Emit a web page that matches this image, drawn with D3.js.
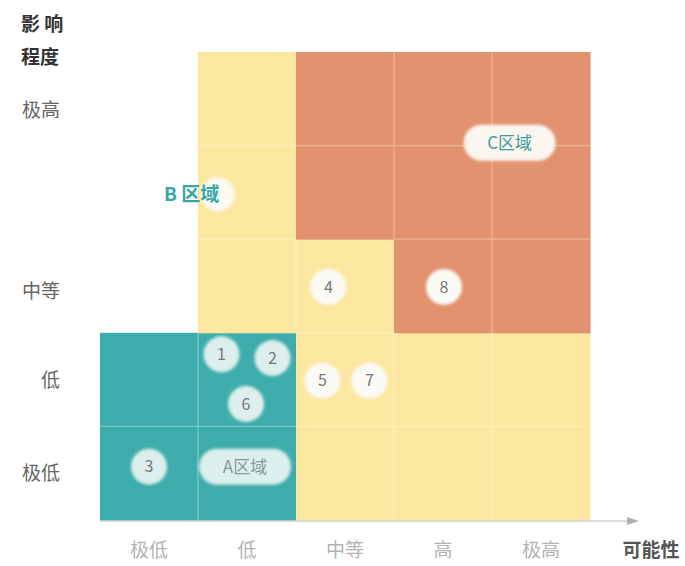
<!DOCTYPE html>
<html>
<head>
<meta charset="utf-8">
<script src="https://cdn.jsdelivr.net/npm/d3@7"></script>
<style>
  body { margin: 0; background: #fff; }
  text { font-family: "Noto Sans CJK SC", "Noto Sans", sans-serif; }
</style>
</head>
<body>
<div id="chart"></div>
<script>
// categories
const likelihood = ["极低", "低", "中等", "高", "极高"];
const impactLabels = ["极低", "低", "中等", "极高"];
const impactLabelPos = [0.5, 1.5, 2.45, 4.38];

// zone of each cell, row 0 = 极低 impact, col 0 = 极低 likelihood
const zoneRows = [
  ["A", "A", "B", "B", "B"],
  ["A", "A", "B", "B", "B"],
  [null, "B", "B", "C", "C"],
  [null, "B", "C", "C", "C"],
  [null, "B", "C", "C", "C"]
];

// risks: likelihood / impact positions (0..5)
const riskIds = ["1", "2", "6", "3", "5", "7", "4", "8"];
const riskX = [1.24, 1.76, 1.49, 0.5, 2.27, 2.75, 2.33, 3.51];
const riskY = [1.77, 1.73, 1.24, 0.57, 1.49, 1.49, 2.49, 2.49];

// zone tags
const zoneNames = ["A区域", "C区域"];
const zoneX = [1.48, 4.18];
const zoneY = [0.57, 4.03];

const width = 685, height = 566;
const colors = { A: "#3eacac", B: "#fce7a1", C: "#e3926f" };
const gridColors = { A: "#7cc9c6", B: "#fdedb8", C: "#f0b397" };

const svg = d3.select("#chart").append("svg")
  .attr("width", width)
  .attr("height", height);

const x = d3.scaleLinear().domain([0, 5]).range([100, 590]);
const y = d3.scaleLinear().domain([0, 5]).range([520, 52]);

// cells
const cells = [];
zoneRows.forEach((row, r) => row.forEach((z, c) => { if (z) cells.push({ r, c, z }); }));

svg.append("g").selectAll("rect")
  .data(cells)
  .join("rect")
  .attr("x", d => x(d.c))
  .attr("y", d => y(d.r + 1))
  .attr("width", x(1) - x(0) + 0.5)
  .attr("height", y(0) - y(1) + 0.5)
  .attr("fill", d => colors[d.z]);

// thin inner grid lines between cells of the same zone
const gridG = svg.append("g");
cells.forEach(d => {
  if (d.c < 4 && zoneRows[d.r][d.c + 1] === d.z) {
    gridG.append("line")
      .attr("x1", x(d.c + 1)).attr("x2", x(d.c + 1))
      .attr("y1", y(d.r + 1)).attr("y2", y(d.r))
      .attr("stroke", gridColors[d.z]).attr("stroke-width", 1.3);
  }
  if (d.r < 4 && zoneRows[d.r + 1][d.c] === d.z) {
    gridG.append("line")
      .attr("x1", x(d.c)).attr("x2", x(d.c + 1))
      .attr("y1", y(d.r + 1)).attr("y2", y(d.r + 1))
      .attr("stroke", gridColors[d.z]).attr("stroke-width", 1.3);
  }
});

// x axis arrow
const defs = svg.append("defs");
defs.append("marker")
  .attr("id", "arrow")
  .attr("viewBox", "0 0 12 10")
  .attr("refX", 1).attr("refY", 5)
  .attr("markerWidth", 14).attr("markerHeight", 10)
  .attr("markerUnits", "userSpaceOnUse")
  .attr("orient", "auto")
  .append("path")
  .attr("d", "M0,1L12,5L0,9z")
  .attr("fill", "#b0b0b0");

svg.append("line")
  .attr("x1", x(0)).attr("x2", 628)
  .attr("y1", y(0) + 1).attr("y2", y(0) + 1)
  .attr("stroke", "#bbb").attr("stroke-width", 1)
  .attr("marker-end", "url(#arrow)");

// x tick labels
svg.append("g").selectAll("text")
  .data(likelihood)
  .join("text")
  .attr("x", (d, i) => x(i + 0.5))
  .attr("y", 557)
  .attr("text-anchor", "middle")
  .attr("font-size", 19)
  .attr("fill", "#b3b3b3")
  .text(d => d);

svg.append("text")
  .attr("x", 651).attr("y", 557)
  .attr("text-anchor", "middle")
  .attr("font-size", 19)
  .attr("font-weight", "bold")
  .attr("fill", "#555")
  .text("可能性");

// y tick labels
svg.append("g").selectAll("text")
  .data(impactLabels)
  .join("text")
  .attr("x", 60)
  .attr("y", (d, i) => y(impactLabelPos[i]) + 7)
  .attr("text-anchor", "end")
  .attr("font-size", 19)
  .attr("fill", "#666")
  .text(d => d);

// y axis title
svg.append("text")
  .attr("x", 21).attr("y", 31)
  .attr("font-size", 19).attr("font-weight", "bold").attr("fill", "#333")
  .text("影 响");
svg.append("text")
  .attr("x", 21).attr("y", 64)
  .attr("font-size", 19).attr("font-weight", "bold").attr("fill", "#333")
  .text("程度");

// soft glow for badges
const blur = defs.append("filter").attr("id", "soft")
  .attr("x", "-30%").attr("y", "-30%").attr("width", "160%").attr("height", "160%");
blur.append("feGaussianBlur").attr("stdDeviation", 1.4);

// risk badges
const badges = svg.append("g").selectAll("g")
  .data(riskIds.map((id, i) => ({ id, vx: riskX[i], vy: riskY[i] })))
  .join("g")
  .attr("transform", d => `translate(${x(d.vx)},${y(d.vy)})`);

badges.append("circle")
  .attr("r", 18)
  .attr("fill", d => d.vx < 2 ? "#dcefec" : "#fbfaf5")
  .attr("filter", "url(#soft)");

badges.append("text")
  .attr("text-anchor", "middle")
  .attr("dy", "0.36em")
  .attr("font-size", 16)
  .attr("fill", "#777")
  .text(d => d.id);

// zone tags
const tags = svg.append("g").selectAll("g")
  .data(zoneNames.map((n, i) => ({ n, vx: zoneX[i], vy: zoneY[i] })))
  .join("g")
  .attr("transform", d => `translate(${x(d.vx)},${y(d.vy)})`);

tags.append("rect")
  .attr("x", -46).attr("y", -18)
  .attr("width", 92).attr("height", 36)
  .attr("rx", 18)
  .attr("fill", d => d.vx < 2 ? "#dcefec" : "#fbf6f0")
  .attr("filter", "url(#soft)");

tags.append("text")
  .attr("text-anchor", "middle")
  .attr("dy", "0.36em")
  .attr("font-size", 17)
  .attr("fill", d => d.vx < 2 ? "#8a9a9a" : "#3c9c9c")
  .text(d => d.n);

// B zone label with faint glow behind
svg.append("circle")
  .attr("cx", x(1.2)).attr("cy", y(3.48))
  .attr("r", 17)
  .attr("fill", "#fbfaf3")
  .attr("filter", "url(#soft)");

svg.append("text")
  .attr("x", 164).attr("y", y(3.48) + 7)
  .attr("font-family", "'DejaVu Serif', serif")
  .attr("font-size", 19)
  .attr("font-weight", "bold")
  .attr("fill", "#37a6a6")
  .text("B 区域");
</script>
</body>
</html>
